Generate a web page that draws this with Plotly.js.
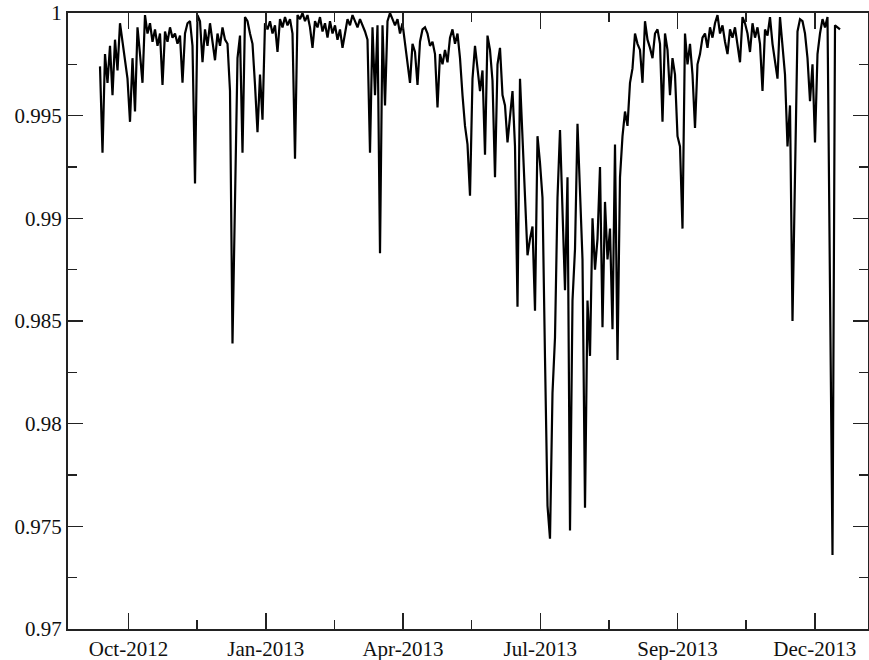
<!DOCTYPE html>
<html>
<head>
<meta charset="utf-8">
<script src="https://cdn.plot.ly/plotly-3.0.1.min.js"></script>
<style>
html,body{margin:0;padding:0;background:#fff;}
#chart{width:869px;height:660px;}
</style>
</head>
<body>
<div id="chart"></div>
<script>
// Daily series values, in chronological order
const segSep2012Dec2012 = [
  0.9974, 0.9932, 0.9980, 0.9966, 0.9984, 0.9960, 0.9987, 0.9972, 0.9995, 0.9985,
  0.9976, 0.9968, 0.9947, 0.9978, 0.9952, 0.9993, 0.9980, 0.9966, 0.9999, 0.9990,
  0.9995, 0.9986, 0.9992, 0.9984, 0.9990, 0.9965, 0.9991, 0.9986, 0.9993, 0.9988,
  0.9990, 0.9985, 0.9989, 0.9966, 0.9990, 0.9995, 0.9996, 0.9984, 0.9917, 0.9999,
  0.9996, 0.9976, 0.9992, 0.9984, 0.9995, 0.9986, 0.9977, 0.9990, 0.9984, 0.9993,
  0.9987, 0.9985
];
const segDec2012Mar2013 = [
  0.9962, 0.9839, 0.9905, 0.9978, 0.9989, 0.9932, 0.9998, 0.9996, 0.9990, 0.9985,
  0.9965, 0.9942, 0.9970, 0.9948, 0.9995, 0.9992, 0.9996, 0.9990, 0.9994, 0.9981,
  0.9997, 0.9993, 0.9998, 0.9994, 0.9997, 0.9990, 0.9929, 0.9999, 0.9997, 1.0000,
  0.9996, 0.9999, 0.9993, 0.9983, 0.9996, 0.9993, 0.9998, 0.9991, 0.9995, 0.9988,
  0.9996, 0.9990, 0.9994, 0.9987, 0.9992, 0.9983
];
const segMar2013Jun2013 = [
  0.9990, 0.9997, 0.9994, 0.9999, 0.9996, 0.9993, 0.9997, 0.9994, 0.9991, 0.9987,
  0.9932, 0.9993, 0.9960, 0.9994, 0.9883, 0.9994, 0.9955, 0.9996, 1.0000, 0.9997,
  0.9994, 0.9997, 0.9990, 0.9995, 0.9985, 0.9978, 0.9966, 0.9985, 0.9981, 0.9965,
  0.9986, 0.9992, 0.9993, 0.9990, 0.9984, 0.9986, 0.9980, 0.9954, 0.9980, 0.9975,
  0.9982, 0.9976, 0.9988, 0.9992, 0.9985, 0.9990, 0.9978, 0.9960, 0.9945, 0.9936
];
const segJun2013Aug2013 = [
  0.9911, 0.9968, 0.9984, 0.9973, 0.9962, 0.9972, 0.9931, 0.9989, 0.9982, 0.9967,
  0.9920, 0.9975, 0.9983, 0.9960, 0.9955, 0.9937, 0.9950, 0.9962, 0.9935, 0.9857,
  0.9968, 0.9940, 0.9913, 0.9882, 0.9890, 0.9896, 0.9855, 0.9940, 0.9927, 0.9910,
  0.9832, 0.9760, 0.9744, 0.9815, 0.9842, 0.9910, 0.9943, 0.9905, 0.9865, 0.9920,
  0.9748, 0.9860, 0.9885, 0.9946, 0.9910, 0.9880, 0.9759, 0.9860, 0.9833, 0.9900,
  0.9875, 0.9890
];
const segAug2013Oct2013 = [
  0.9925, 0.9847, 0.9908, 0.9880, 0.9895, 0.9846, 0.9936, 0.9831, 0.9920, 0.9940,
  0.9952, 0.9945, 0.9966, 0.9973, 0.9990, 0.9985, 0.9982, 0.9966, 0.9996, 0.9987,
  0.9983, 0.9978, 0.9990, 0.9992, 0.9985, 0.9947, 0.9990, 0.9982, 0.9960, 0.9978,
  0.9970, 0.9940, 0.9935, 0.9895, 0.9990, 0.9975, 0.9985, 0.9970, 0.9944, 0.9975,
  0.9980, 0.9988, 0.9990, 0.9983, 0.9993, 0.9988, 0.9995, 0.9999, 0.9990, 0.9994,
  0.9986, 0.9980
];
const segOct2013Dec2013 = [
  0.9992, 0.9988, 0.9993, 0.9985, 0.9976, 0.9998, 0.9995, 0.9990, 0.9981, 0.9995,
  0.9988, 0.9993, 0.9985, 0.9962, 0.9992, 0.9989, 0.9998, 0.9985, 0.9975, 0.9968,
  0.9998, 0.9985, 0.9970, 0.9935, 0.9955, 0.9850, 0.9925, 0.9991, 0.9997, 0.9996,
  0.9990, 0.9978, 0.9957, 0.9975, 0.9937, 0.9980, 0.9990, 0.9997, 0.9993, 0.9998,
  0.9866, 0.9736, 0.9994, 0.9993, 0.9992
];
const tickLabels = ["Oct-2012", "Jan-2013", "Apr-2013", "Jul-2013", "Sep-2013", "Dec-2013"];

const values = [].concat(segSep2012Dec2012, segDec2012Mar2013, segMar2013Jun2013,
                         segJun2013Aug2013, segAug2013Oct2013, segOct2013Dec2013);
const dayIndex = values.map((v, i) => i);

// axis layout
const firstTick = 11.4, tickStep = 54.9;
const majorTicks = tickLabels.map((t, k) => firstTick + k * tickStep);
const minorTicks = majorTicks.slice(0, -1).map(v => v + tickStep / 2);

const font = {family: "Liberation Serif, Times New Roman, serif", size: 21, color: "#111"};

const trace = {
  x: dayIndex, y: values, type: "scatter", mode: "lines",
  line: {color: "#000", width: 2.2}, hoverinfo: "skip"
};

const layout = {
  width: 869, height: 660,
  margin: {l: 68, r: 1, t: 13, b: 31},
  paper_bgcolor: "#fff", plot_bgcolor: "#fff",
  showlegend: false,
  font: font,
  xaxis: {
    range: [-12.8, 307.2],
    tickmode: "array", tickvals: majorTicks, ticktext: tickLabels,
    ticks: "inside", ticklen: 16, tickwidth: 1.5, tickcolor: "#222",
    minor: {tickmode: "array", tickvals: minorTicks, ticks: "inside", ticklen: 9, tickwidth: 1.5, tickcolor: "#222", showgrid: false},
    showline: true, linecolor: "#222", linewidth: 2, mirror: "allticks",
    showgrid: false, zeroline: false, tickfont: font
  },
  yaxis: {
    range: [0.97, 1.0],
    tickmode: "linear", tick0: 0.97, dtick: 0.005,
    ticks: "inside", ticklen: 15, tickwidth: 1.5, tickcolor: "#222",
    minor: {tickmode: "linear", tick0: 0.97, dtick: 0.0025, ticks: "inside", ticklen: 9, tickwidth: 1.5, tickcolor: "#222", showgrid: false},
    showline: true, linecolor: "#222", linewidth: 2, mirror: "allticks",
    showgrid: false, zeroline: false, tickfont: font
  }
};

Plotly.newPlot("chart", [trace], layout, {displayModeBar: false, staticPlot: true});
</script>
</body>
</html>
